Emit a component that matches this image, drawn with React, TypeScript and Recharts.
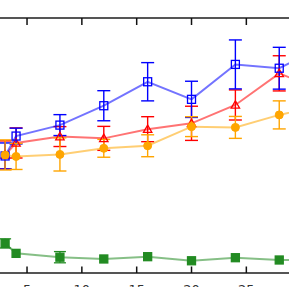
import React from 'react';
import { LineChart, Line, XAxis, YAxis, ErrorBar } from 'recharts';

const xValues = [3, 4, 8, 12, 16, 20, 24, 28, 32];
const blueValues = [45.9, 53.7, 58.0, 65.6, 75.0, 68.1, 81.8, 80.3, 89.0];
const blueErrors = [5.1, 3.1, 4.1, 5.9, 7.5, 7.1, 9.6, 8.2, 8.0];
const redValues = [46.3, 51.0, 53.5, 52.8, 56.4, 58.7, 65.9, 78.3, 71.4];
const redErrors = [5.5, 5.9, 3.9, 4.7, 4.9, 6.7, 5.9, 6.9, 6.0];
const orangeValues = [46.3, 45.7, 46.5, 48.9, 49.9, 57.4, 57.1, 62.0, 65.9];
const orangeErrors = [5.9, 5.1, 6.5, 3.5, 4.3, 3.9, 4.3, 5.5, 5.0];
const greenValues = [11.6, 7.7, 6.2, 5.5, 6.4, 4.8, 6.0, 5.1, 5.1];
const greenErrors = [1.8, 0, 2.2, 0, 0, 0, 0, 0, 0];
const xTicks = [5, 10, 15, 20, 25];
const xDomain = [2.535, 28.89];
const yDomain = [0, 100];

const data = xValues.map((x, i) => ({
  x,
  blue: blueValues[i],
  blueErr: blueErrors[i],
  red: redValues[i],
  redErr: redErrors[i],
  orange: orangeValues[i],
  orangeErr: orangeErrors[i],
  green: greenValues[i],
  greenErr: greenErrors[i],
}));

const BLUE = '#0000ff';
const RED = '#ff0000';
const ORANGE = '#ffa500';
const GREEN = '#228b22';

const squareDot = (color: string, filled: boolean, size: number) => (props: any) => {
  const { cx, cy, index } = props;
  if (cx == null || cy == null) return <g key={`s${color}${index}`} />;
  return (
    <rect
      key={`s${color}${index}`}
      x={cx - size / 2}
      y={cy - size / 2}
      width={size}
      height={size}
      fill={filled ? color : 'none'}
      stroke={color}
      strokeWidth={1.3}
    />
  );
};

const triangleDot = (color: string) => (props: any) => {
  const { cx, cy, index } = props;
  if (cx == null || cy == null) return <g key={`t${index}`} />;
  const pts = `${cx},${cy - 4.2} ${cx - 4.2},${cy + 3.2} ${cx + 4.2},${cy + 3.2}`;
  return <polygon key={`t${index}`} points={pts} fill="none" stroke={color} strokeWidth={1.3} />;
};

const circleDot = (color: string) => (props: any) => {
  const { cx, cy, index } = props;
  if (cx == null || cy == null) return <g key={`c${index}`} />;
  return <circle key={`c${index}`} cx={cx} cy={cy} r={4} fill={color} stroke={color} strokeWidth={1} />;
};

const BottomTick = (props: any) => {
  const { x, y, payload } = props;
  return (
    <g>
      <line x1={x} y1={y} x2={x} y2={y - 6.5} stroke="#111" strokeWidth={1.5} />
      <text x={x} y={y + 20.5} textAnchor="middle" fontFamily="DejaVu Sans" fontSize={13} fill="#333">
        {payload.value}
      </text>
    </g>
  );
};

const TopTick = (props: any) => {
  const { x, y } = props;
  return (
    <g>
      <line x1={x} y1={y} x2={x} y2={y + 7} stroke="#111" strokeWidth={1.5} />
    </g>
  );
};

export default function App() {
  return (
    <div style={{ position: 'absolute', left: 0, top: 0 }}>
      <LineChart width={289} height={287} data={data} margin={{ top: 0, right: 0, bottom: 0, left: 0 }}>
        <XAxis
          xAxisId="b"
          dataKey="x"
          type="number"
          domain={xDomain}
          allowDataOverflow
          ticks={xTicks}
          interval={0}
          height={14}
          tickSize={0}
          tickMargin={0}
          tickLine={false}
          tick={<BottomTick />}
          axisLine={{ stroke: '#555', strokeWidth: 1.8 }}
        />
        <XAxis
          xAxisId="t"
          orientation="top"
          dataKey="x"
          type="number"
          domain={xDomain}
          allowDataOverflow
          ticks={xTicks}
          interval={0}
          height={18}
          tickSize={0}
          tickMargin={0}
          tickLine={false}
          tick={<TopTick />}
          axisLine={{ stroke: '#555', strokeWidth: 1.8 }}
        />
        <YAxis hide domain={yDomain} type="number" allowDataOverflow />
        <Line
          xAxisId="b"
          dataKey="green"
          stroke={GREEN}
          strokeOpacity={0.55}
          strokeWidth={2}
          dot={squareDot(GREEN, true, 8)}
          activeDot={false}
          isAnimationActive={false}
        >
          <ErrorBar dataKey="greenErr" width={6} stroke={GREEN} strokeWidth={1.3} isAnimationActive={false} />
        </Line>
        <Line
          xAxisId="b"
          dataKey="red"
          stroke={RED}
          strokeOpacity={0.55}
          strokeWidth={2}
          dot={triangleDot(RED)}
          activeDot={false}
          isAnimationActive={false}
        >
          <ErrorBar dataKey="redErr" width={6.5} stroke={RED} strokeWidth={1.4} isAnimationActive={false} />
        </Line>
        <Line
          xAxisId="b"
          dataKey="blue"
          stroke={BLUE}
          strokeOpacity={0.55}
          strokeWidth={2}
          dot={squareDot(BLUE, false, 8)}
          activeDot={false}
          isAnimationActive={false}
        >
          <ErrorBar dataKey="blueErr" width={6.5} stroke={BLUE} strokeWidth={1.4} isAnimationActive={false} />
        </Line>
        <Line
          xAxisId="b"
          dataKey="orange"
          stroke={ORANGE}
          strokeOpacity={0.55}
          strokeWidth={2}
          dot={circleDot(ORANGE)}
          activeDot={false}
          isAnimationActive={false}
        >
          <ErrorBar dataKey="orangeErr" width={6.5} stroke={ORANGE} strokeWidth={1.4} isAnimationActive={false} />
        </Line>
      </LineChart>
    </div>
  );
}
